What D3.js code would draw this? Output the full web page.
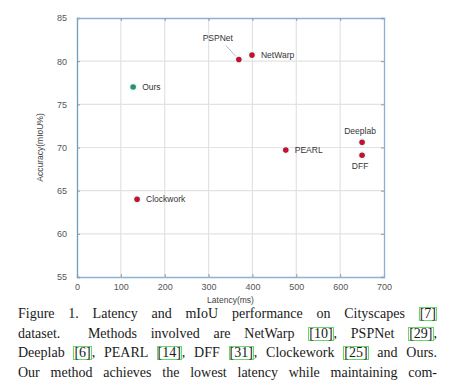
<!DOCTYPE html>
<html>
<head>
<meta charset="UTF-8">
<script src="https://d3js.org/d3.v7.min.js"></script>
<style>
  body { margin: 0; background: #fff; width: 454px; height: 388px; overflow: hidden; }
  svg { position: absolute; left: 0; top: 0; }
  #caption {
    position: absolute; left: 18px; top: 304px; width: 419px;
    font-family: "Liberation Serif", "Times New Roman", serif;
    font-size: 14px; line-height: 19.5px; color: #1a1a1a;
  }
  #caption div { text-align: justify; text-align-last: justify; white-space: nowrap; }
  .ref { display: inline-block; border: 1px solid #66d966; line-height: 12px; padding: 0; }
</style>
</head>
<body>
<svg></svg>
<div id="caption"></div>
<script>

// data
var methods  = ["PSPNet", "NetWarp", "Ours", "Deeplab", "PEARL", "DFF", "Clockwork"];
var latency  = [369, 399, 128, 650, 476, 650, 137];
var accuracy = [80.2, 80.7, 77.0, 70.6, 69.7, 69.1, 64.0];
var labelPos = ["leader", "right", "right", "above", "right", "below", "right"];
var xTicks = [0, 100, 200, 300, 400, 500, 600, 700];
var yTicks = [55, 60, 65, 70, 75, 80, 85];

var captionLines = [
  "Figure 1. Latency and mIoU performance on Cityscapes [7]",
  "dataset.&nbsp; Methods involved are NetWarp [10], PSPNet [29],",
  "Deeplab [6], PEARL [14], DFF [31], Clockework [25] and Ours.",
  "Our method achieves the lowest latency while maintaining com-"
];

var margin = {top: 18, left: 77},
    plotW = 307, plotH = 259;

var svg = d3.select("svg").attr("width", 454).attr("height", 312);

var x = d3.scaleLinear().domain([0, 700]).range([0, plotW]);
var y = d3.scaleLinear().domain([55, 85]).range([plotH, 0]);

var g = svg.append("g").attr("transform", "translate(" + margin.left + "," + margin.top + ")");

// grid
g.selectAll(".vgrid").data(xTicks.slice(1, -1)).enter().append("line")
  .attr("x1", d => x(d)).attr("x2", d => x(d))
  .attr("y1", 0).attr("y2", plotH)
  .attr("stroke", "#e2e2e2").attr("stroke-width", 1.2);
g.selectAll(".hgrid").data(yTicks.slice(1, -1)).enter().append("line")
  .attr("y1", d => y(d)).attr("y2", d => y(d))
  .attr("x1", 0).attr("x2", plotW)
  .attr("stroke", "#e2e2e2").attr("stroke-width", 1.2);

// axes (ticks inside)
var xAxis = g.append("g").attr("transform", "translate(0," + plotH + ")")
  .call(d3.axisBottom(x).tickValues(xTicks).tickSize(-3).tickPadding(7));
var yAxis = g.append("g")
  .call(d3.axisLeft(y).tickValues(yTicks).tickSize(-3).tickPadding(10));
var xTop = g.append("g")
  .call(d3.axisTop(x).tickValues(xTicks).tickSize(-3).tickFormat(""));
var yRight = g.append("g").attr("transform", "translate(" + plotW + ",0)")
  .call(d3.axisRight(y).tickValues(yTicks).tickSize(-3).tickFormat(""));

[xAxis, yAxis, xTop, yRight].forEach(function(a) {
  a.select(".domain").attr("stroke", "#8fb0d6").attr("stroke-width", 1.3);
  a.selectAll(".tick line").attr("stroke", "#999");
  a.selectAll("text").attr("fill", "#555")
    .style("font-family", "Liberation Sans, Arial, sans-serif").style("font-size", "9px");
});
yAxis.select(".domain").attr("stroke", "#6f9fbf");

// axis titles
svg.append("text")
  .attr("x", margin.left + plotW / 2).attr("y", 303)
  .attr("text-anchor", "middle")
  .attr("fill", "#444")
  .style("font-family", "Liberation Sans, Arial, sans-serif").style("font-size", "8.5px")
  .text("Latency(ms)");
svg.append("text")
  .attr("transform", "translate(43," + (margin.top + plotH / 2) + ") rotate(-90)")
  .attr("text-anchor", "middle")
  .attr("fill", "#444")
  .style("font-family", "Liberation Sans, Arial, sans-serif").style("font-size", "8.5px")
  .text("Accuracy(mIoU%)");

// points
var pts = methods.map((m, i) => ({name: m, lat: latency[i], acc: accuracy[i], pos: labelPos[i]}));

var p = g.selectAll(".pt").data(pts).enter().append("g");

p.filter(d => d.pos == "leader").append("line")
  .attr("x1", d => x(d.lat) - 13).attr("y1", d => y(d.acc) - 14)
  .attr("x2", d => x(d.lat) - 2).attr("y2", d => y(d.acc) - 2)
  .attr("stroke", "#9ad").attr("stroke-width", 0.8);

p.append("circle")
  .attr("cx", d => x(d.lat)).attr("cy", d => y(d.acc))
  .attr("r", 4.5).attr("fill", "#e8fbfb");
p.append("circle")
  .attr("cx", d => x(d.lat)).attr("cy", d => y(d.acc))
  .attr("r", 2.8)
  .attr("fill", d => d.name == "Ours" ? "#2f8f6a" : "#c8102e");

p.append("text")
  .attr("x", function(d) {
    if (d.pos == "right") return x(d.lat) + 9;
    if (d.pos == "leader") return x(d.lat) - 21;
    return x(d.lat) - 2;
  })
  .attr("y", function(d) {
    if (d.pos == "above") return y(d.acc) - 8;
    if (d.pos == "below") return y(d.acc) + 14;
    if (d.pos == "leader") return y(d.acc) - 18;
    return y(d.acc) + 3;
  })
  .attr("text-anchor", d => (d.pos == "right") ? "start" : "middle")
  .attr("fill", "#333")
  .style("font-family", "Liberation Sans, Arial, sans-serif").style("font-size", "8.5px")
  .text(d => d.name);

// caption
d3.select("#caption").selectAll("div").data(captionLines).enter().append("div")
  .html(d => d.replace(/(\[\d+\])/g, '<span class="ref">$1</span>'));

</script>
</body>
</html>
